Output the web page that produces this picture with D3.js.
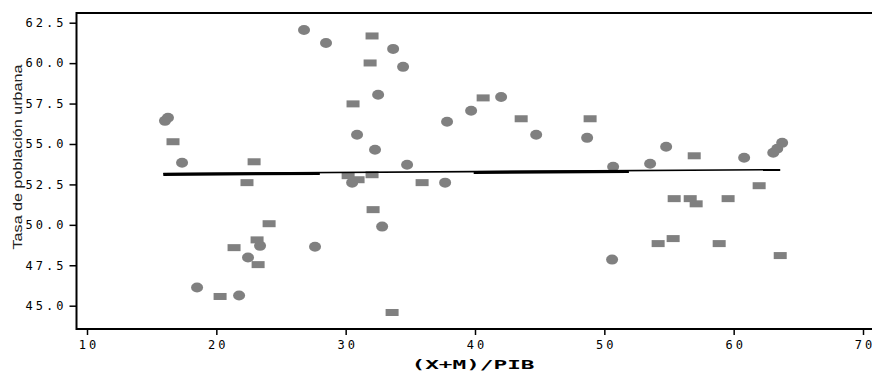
<!DOCTYPE html>
<html>
<head>
<meta charset="utf-8">
<script src="https://cdn.jsdelivr.net/npm/d3@7"></script>
<style>
  body { margin: 0; background: #fff; }
  .tick text { font-family: "DejaVu Sans Mono", monospace; font-size: 12px; letter-spacing: 3px; fill: #000; }
</style>
</head>
<body>
<div id="chart"></div>
<script>
/* data */
var xTicks = [10, 20, 30, 40, 50, 60, 70];
var yTicks = [45.0, 47.5, 50.0, 52.5, 55.0, 57.5, 60.0, 62.5];

// circle markers [x, y]
var circles = [
  [16.03, 56.43], [16.26, 56.62], [17.35, 53.84], [26.78, 62.05], [28.48, 61.25],
  [33.67, 60.88], [34.44, 59.77], [32.51, 58.04], [30.88, 55.57], [32.27, 54.64],
  [34.75, 53.72], [37.84, 56.37], [39.70, 57.05], [42.02, 57.91], [44.73, 55.57],
  [37.69, 52.61], [30.50, 52.61], [32.82, 49.89], [27.63, 48.65], [23.38, 48.70],
  [22.45, 47.98], [18.51, 46.12], [21.76, 45.63], [48.67, 55.38], [50.68, 53.59],
  [53.54, 53.78], [54.78, 54.83], [60.81, 54.15], [63.06, 54.46], [63.37, 54.70],
  [63.75, 55.07], [50.60, 47.85]
];

// rectangle markers [x, y]
var rects = [
  [16.65, 55.14], [22.92, 53.90], [22.37, 52.61], [24.08, 50.07], [21.37, 48.59],
  [23.15, 49.07], [23.23, 47.54], [20.29, 45.57], [32.04, 61.68], [31.89, 60.01],
  [30.57, 57.48], [40.63, 57.85], [43.57, 56.56], [30.19, 53.04], [30.96, 52.79],
  [32.04, 53.10], [32.12, 50.94], [33.59, 44.58], [35.91, 52.61], [48.90, 56.56],
  [56.95, 54.27], [61.97, 52.42], [55.40, 51.62], [56.64, 51.62], [57.10, 51.30],
  [59.57, 51.62], [54.16, 48.84], [55.32, 49.15], [58.88, 48.84], [63.60, 48.10]
];

// fit line ends and the stretches drawn heavy
var fitLine = [[15.9, 53.17], [63.6, 53.41]];
var heavyParts = [[15.9, 28.0], [39.9, 51.9]];

/* constants */
var width = 872, height = 373;
var plotLeft = 76.5, plotTop = 13, plotBottom = 329;
var grey = "#808080";

var svg = d3.select("#chart").append("svg")
  .attr("width", width)
  .attr("height", height);

var x = d3.scaleLinear().domain([10, 70]).range([87, 863]);
var y = d3.scaleLinear().domain([45, 62.5]).range([305.7, 22.7]);

function fitY(v) {
  var a = fitLine[0], b = fitLine[1];
  return a[1] + (b[1] - a[1]) * (v - a[0]) / (b[0] - a[0]);
}

// axes
var yAxis = svg.append("g")
  .attr("transform", "translate(" + plotLeft + ",0)")
  .call(d3.axisLeft(y).tickValues(yTicks).tickFormat(d3.format(".1f")).tickSize(7).tickSizeOuter(0));
yAxis.select(".domain").remove();
yAxis.selectAll(".tick line").attr("stroke", "#000").attr("stroke-width", 1.5);
yAxis.selectAll(".tick text").attr("x", -10);

var xAxis = svg.append("g")
  .attr("transform", "translate(0," + plotBottom + ")")
  .call(d3.axisBottom(x).tickValues(xTicks).tickSize(6).tickSizeOuter(0));
xAxis.select(".domain").remove();
xAxis.selectAll(".tick line").attr("stroke", "#000").attr("stroke-width", 1.5);
xAxis.selectAll(".tick text").attr("y", 11).attr("dx", "1.5px");

// frame: top, left and bottom sides
svg.append("path")
  .attr("d", "M" + width + "," + plotTop + "H" + plotLeft + "V" + plotBottom + "H" + width)
  .attr("fill", "none")
  .attr("stroke", "#000")
  .attr("stroke-width", 2);

// markers
svg.append("g").selectAll("ellipse")
  .data(circles)
  .enter().append("ellipse")
  .attr("cx", function(d) { return x(d[0]); })
  .attr("cy", function(d) { return y(d[1]); })
  .attr("rx", 6)
  .attr("ry", 5)
  .attr("fill", grey);

svg.append("g").selectAll("rect")
  .data(rects)
  .enter().append("rect")
  .attr("x", function(d) { return x(d[0]) - 6.5; })
  .attr("y", function(d) { return y(d[1]) - 3.5; })
  .attr("width", 13)
  .attr("height", 7)
  .attr("fill", grey);

// fit line, thin over its whole span and heavy in parts
svg.append("line")
  .attr("x1", x(fitLine[0][0])).attr("y1", y(fitLine[0][1]))
  .attr("x2", x(fitLine[1][0])).attr("y2", y(fitLine[1][1]))
  .attr("stroke", "#000")
  .attr("stroke-width", 1.6);

svg.append("g").selectAll("line")
  .data(heavyParts)
  .enter().append("line")
  .attr("x1", function(d) { return x(d[0]); })
  .attr("y1", function(d) { return y(fitY(d[0])) + 0.8; })
  .attr("x2", function(d) { return x(d[1]); })
  .attr("y2", function(d) { return y(fitY(d[1])) + 0.8; })
  .attr("stroke", "#000")
  .attr("stroke-width", 3);

// axis titles
svg.append("text")
  .attr("x", 473)
  .attr("y", 369)
  .attr("text-anchor", "middle")
  .attr("font-family", "DejaVu Sans Mono, monospace")
  .attr("font-size", 13)
  .attr("font-weight", "bold")
  .attr("textLength", 123)
  .attr("lengthAdjust", "spacingAndGlyphs")
  .attr("fill", "#000")
  .text("(X+M)/PIB");

svg.append("text")
  .attr("transform", "translate(22,157) rotate(-90)")
  .attr("text-anchor", "middle")
  .attr("font-family", "Liberation Sans, Arial, sans-serif")
  .attr("font-size", 13)
  .attr("textLength", 185)
  .attr("lengthAdjust", "spacingAndGlyphs")
  .attr("fill", "#222")
  .text("Tasa de población urbana");
</script>
</body>
</html>
